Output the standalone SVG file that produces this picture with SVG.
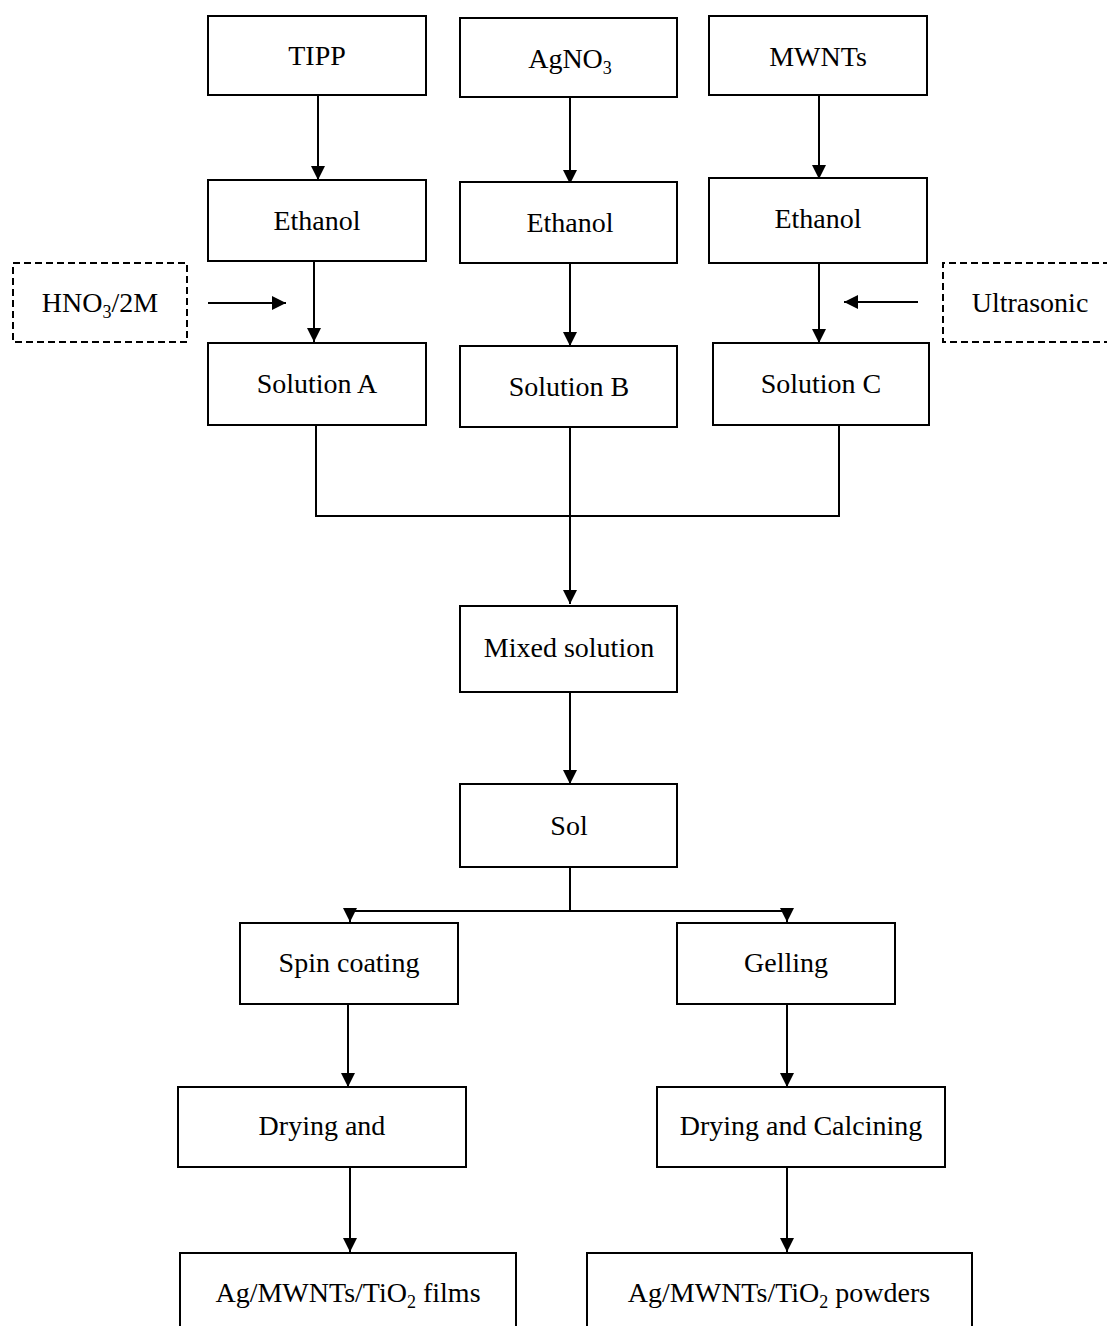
<svg xmlns="http://www.w3.org/2000/svg" width="1107" height="1326" viewBox="0 0 1107 1326">
<style>
.box{fill:#fff;stroke:#000;stroke-width:2}
.dash{fill:none;stroke:#000;stroke-width:2;stroke-dasharray:7 4}
.t{font-family:"Liberation Serif","Times New Roman",serif;font-size:28px;fill:#000;text-anchor:middle}
.c{fill:none;stroke:#000;stroke-width:2}
</style>
<defs>
<marker id="ah" viewBox="0 0 14 14" refX="14" refY="7" markerWidth="14" markerHeight="14" markerUnits="userSpaceOnUse" orient="auto">
<path d="M0,0 L14,7 L0,14 z" fill="#000"/>
</marker>
</defs>
<rect width="1107" height="1326" fill="#fff"/>
<g id="connectors">
<path class="c" d="M318,95 V180" marker-end="url(#ah)"/>
<path class="c" d="M570,97 V184" marker-end="url(#ah)"/>
<path class="c" d="M819,95 V179" marker-end="url(#ah)"/>
<path class="c" d="M314,261 V342" marker-end="url(#ah)"/>
<path class="c" d="M570,263 V346" marker-end="url(#ah)"/>
<path class="c" d="M819,263 V343" marker-end="url(#ah)"/>
<path class="c" d="M208,303 H286" marker-end="url(#ah)"/>
<path class="c" d="M918,302 H844" marker-end="url(#ah)"/>
<path class="c" d="M316,425 V516 H839 V425"/>
<path class="c" d="M570,427 V604" marker-end="url(#ah)"/>
<path class="c" d="M570,692 V784" marker-end="url(#ah)"/>
<path class="c" d="M570,867 V911"/>
<path class="c" d="M350,911 H787"/>
<path class="c" d="M350,910 V922" marker-end="url(#ah)"/>
<path class="c" d="M787,910 V922" marker-end="url(#ah)"/>
<path class="c" d="M348,1004 V1087" marker-end="url(#ah)"/>
<path class="c" d="M787,1004 V1087" marker-end="url(#ah)"/>
<path class="c" d="M350,1167 V1252" marker-end="url(#ah)"/>
<path class="c" d="M787,1167 V1252" marker-end="url(#ah)"/>
</g>
<g id="tipp"><rect class="box" x="208" y="16" width="218" height="79"/><text class="t" x="317" y="65">TIPP</text></g>
<g id="agno3"><rect class="box" x="460" y="18" width="217" height="79"/><text class="t" x="570" y="68">AgNO<tspan font-size="18" dy="6">3</tspan></text></g>
<g id="mwnts"><rect class="box" x="709" y="16" width="218" height="79"/><text class="t" x="818" y="66">MWNTs</text></g>
<g id="ethanolA"><rect class="box" x="208" y="180" width="218" height="81"/><text class="t" x="317" y="230">Ethanol</text></g>
<g id="ethanolB"><rect class="box" x="460" y="182" width="217" height="81"/><text class="t" x="570" y="232">Ethanol</text></g>
<g id="ethanolC"><rect class="box" x="709" y="178" width="218" height="85"/><text class="t" x="818" y="228">Ethanol</text></g>
<g id="hno3"><rect class="dash" x="13" y="263" width="174" height="79"/><text class="t" x="100" y="312">HNO<tspan font-size="18" dy="6">3</tspan><tspan dy="-6">/2M</tspan></text></g>
<g id="ultrasonic"><path class="dash" d="M1110,263 H943 V342 H1110"/><text class="t" x="1030" y="312">Ultrasonic</text></g>
<g id="solA"><rect class="box" x="208" y="343" width="218" height="82"/><text class="t" x="317" y="393">Solution A</text></g>
<g id="solB"><rect class="box" x="460" y="346" width="217" height="81"/><text class="t" x="569" y="396">Solution B</text></g>
<g id="solC"><rect class="box" x="713" y="343" width="216" height="82"/><text class="t" x="821" y="393">Solution C</text></g>
<g id="mixed"><rect class="box" x="460" y="606" width="217" height="86"/><text class="t" x="569" y="657">Mixed solution</text></g>
<g id="sol"><rect class="box" x="460" y="784" width="217" height="83"/><text class="t" x="569" y="835">Sol</text></g>
<g id="spin"><rect class="box" x="240" y="923" width="218" height="81"/><text class="t" x="349" y="972">Spin coating</text></g>
<g id="gelling"><rect class="box" x="677" y="923" width="218" height="81"/><text class="t" x="786" y="972">Gelling</text></g>
<g id="drying1"><rect class="box" x="178" y="1087" width="288" height="80"/><text class="t" x="322" y="1135">Drying and</text></g>
<g id="drying2"><rect class="box" x="657" y="1087" width="288" height="80"/><text class="t" x="801" y="1135">Drying and Calcining</text></g>
<g id="films"><rect class="box" x="180" y="1253" width="336" height="90"/><text class="t" x="348" y="1302">Ag/MWNTs/TiO<tspan font-size="18" dy="6">2</tspan><tspan dy="-6"> films</tspan></text></g>
<g id="powders"><rect class="box" x="587" y="1253" width="385" height="90"/><text class="t" x="779" y="1302">Ag/MWNTs/TiO<tspan font-size="18" dy="6">2</tspan><tspan dy="-6"> powders</tspan></text></g>
</svg>
